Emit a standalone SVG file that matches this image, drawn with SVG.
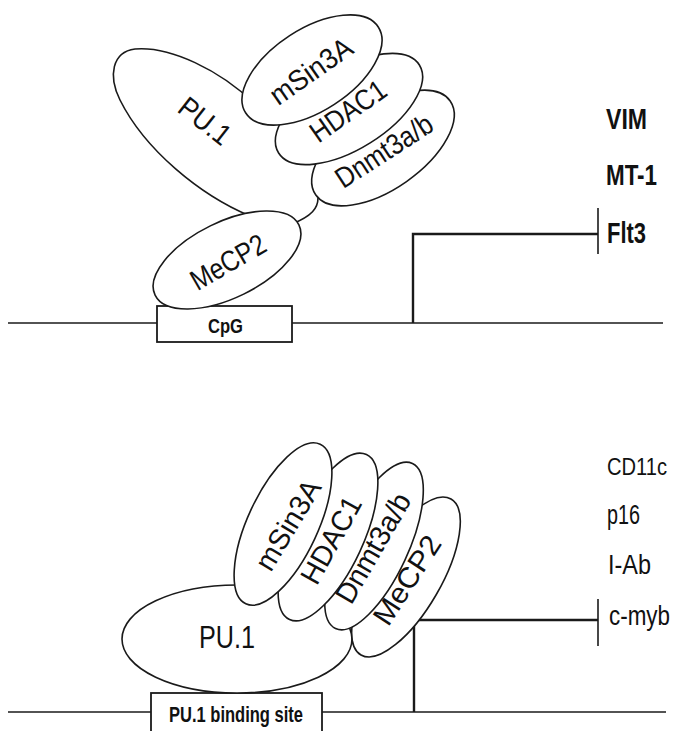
<svg xmlns="http://www.w3.org/2000/svg" width="681" height="731" viewBox="0 0 681 731">
<style>
.bg{fill:#ffffff}
.ln{fill:none;stroke:#1a1a1a;stroke-width:1.6}
.pr{fill:none;stroke:#1a1a1a;stroke-width:2.4}
.bar{fill:none;stroke:#1a1a1a;stroke-width:1.6}
.el{fill:#ffffff;stroke:#1a1a1a;stroke-width:1.6}
.box{fill:#ffffff;stroke:#1a1a1a;stroke-width:1.8}
.t{font-family:"Liberation Sans",Arial,sans-serif;fill:#111}
.lab{font-size:29px;text-anchor:middle}
.gt{font-size:29px;font-weight:bold}
.gb{font-size:27px}
.bx{font-weight:bold}
</style>
<rect class="bg" x="0" y="0" width="681" height="731"/>

<g id="connectors">
  <line class="ln" x1="8" y1="323" x2="157" y2="323"/>
  <line class="ln" x1="292" y1="323" x2="663" y2="323"/>
  <polyline class="pr" points="413,323 413,234 598,234"/>
  <line class="bar" x1="598" y1="208" x2="598" y2="254"/>
  <line class="ln" x1="8" y1="712" x2="151" y2="712"/>
  <line class="ln" x1="322" y1="712" x2="666" y2="712"/>
  <polyline class="pr" points="414,712 414,620 598,620"/>
  <line class="bar" x1="598" y1="599" x2="598" y2="646"/>
  <path class="ln" d="M318,198 C318,208 312,216 292,224"/>
</g>

<g id="cpg">
  <rect class="box" x="157" y="306" width="135" height="36"/>
  <text class="t bx" x="208" y="333" font-size="21" textLength="35" lengthAdjust="spacingAndGlyphs">CpG</text>
</g>
<g id="pu1-top">
  <path class="ln" d="M250,216 C200,195 145,150 120,100 C108,76 112,52 135,49 C170,46 220,70 255,104"/>
  <text class="t lab" transform="translate(205,121) rotate(38)" y="10" textLength="58" lengthAdjust="spacingAndGlyphs">PU.1</text>
</g>
<g id="mecp2-top">
  <ellipse class="el" cx="227" cy="260" rx="80" ry="38" transform="rotate(-26 227 260)"/>
  <text class="t lab" transform="translate(228,262) rotate(-30)" y="10" textLength="82" lengthAdjust="spacingAndGlyphs">MeCP2</text>
</g>
<g id="dnmt-top">
  <ellipse class="el" cx="383" cy="148" rx="82" ry="41" transform="rotate(-35 383 148)"/>
  <text class="t lab" transform="translate(384,151) rotate(-33)" y="10" textLength="110" lengthAdjust="spacingAndGlyphs">Dnmt3a/b</text>
</g>
<g id="hdac1-top">
  <ellipse class="el" cx="349" cy="109" rx="83" ry="40" transform="rotate(-32 349 109)"/>
  <text class="t lab" transform="translate(348,111) rotate(-35)" y="10" textLength="86" lengthAdjust="spacingAndGlyphs">HDAC1</text>
</g>
<g id="msin3a-top">
  <ellipse class="el" cx="312" cy="70" rx="79" ry="41" transform="rotate(-33 312 70)"/>
  <text class="t lab" transform="translate(311,71) rotate(-35)" y="10" textLength="94" lengthAdjust="spacingAndGlyphs">mSin3A</text>
</g>
<g id="genes-top">
  <text class="t gt" x="606" y="129" textLength="41" lengthAdjust="spacingAndGlyphs">VIM</text>
  <text class="t gt" x="606" y="185" textLength="51" lengthAdjust="spacingAndGlyphs">MT-1</text>
  <text class="t gt" x="607" y="243" textLength="39" lengthAdjust="spacingAndGlyphs">Flt3</text>
</g>

<g id="pu1-site">
  <rect class="box" x="151" y="693" width="171" height="45"/>
  <text class="t bx" x="169" y="722" font-size="22" textLength="134" lengthAdjust="spacingAndGlyphs">PU.1 binding site</text>
</g>
<g id="pu1-bottom">
  <ellipse class="el" cx="237" cy="639" rx="115" ry="54"/>
  <text class="t" x="199" y="648" font-size="31" textLength="56" lengthAdjust="spacingAndGlyphs">PU.1</text>
</g>
<g id="mecp2-bottom">
  <ellipse class="el" cx="406" cy="577" rx="90" ry="35" transform="rotate(-60 406 577)"/>
  <text class="t lab" transform="translate(407,580) rotate(-57)" y="10" textLength="100" lengthAdjust="spacingAndGlyphs">MeCP2</text>
</g>
<g id="dnmt-bottom">
  <ellipse class="el" cx="374" cy="546" rx="91" ry="34" transform="rotate(-65 374 546)"/>
  <text class="t lab" transform="translate(373,548) rotate(-60)" y="10" textLength="122" lengthAdjust="spacingAndGlyphs">Dnmt3a/b</text>
</g>
<g id="hdac1-bottom">
  <ellipse class="el" cx="328" cy="537" rx="91" ry="35" transform="rotate(-65 328 537)"/>
  <text class="t lab" transform="translate(331,540) rotate(-61)" y="10" textLength="95" lengthAdjust="spacingAndGlyphs">HDAC1</text>
</g>
<g id="msin3a-bottom">
  <ellipse class="el" cx="283" cy="524" rx="88" ry="35" transform="rotate(-65 283 524)"/>
  <text class="t lab" transform="translate(288,525) rotate(-59)" y="10" textLength="100" lengthAdjust="spacingAndGlyphs">mSin3A</text>
</g>
<g id="genes-bottom">
  <text class="t" x="607" y="475" font-size="24" textLength="60" lengthAdjust="spacingAndGlyphs">CD11c</text>
  <text class="t gb" x="607" y="524" textLength="33" lengthAdjust="spacingAndGlyphs">p16</text>
  <text class="t gb" x="608" y="574" textLength="43" lengthAdjust="spacingAndGlyphs">I-Ab</text>
  <text class="t gb" x="609" y="625" textLength="61" lengthAdjust="spacingAndGlyphs">c-myb</text>
</g>
</svg>
